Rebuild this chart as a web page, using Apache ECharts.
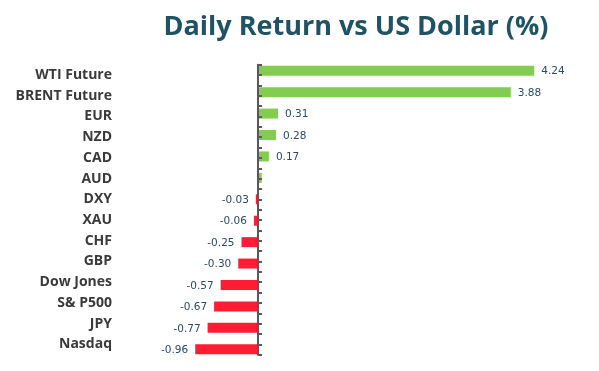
<!DOCTYPE html>
<html><head><meta charset="utf-8">
<script src="https://cdn.jsdelivr.net/npm/echarts@6/dist/echarts.min.js"></script>
<style>html,body{margin:0;padding:0;background:#fff}#c{width:599px;height:371px}</style>
</head><body><div id="c"></div>
<script>
const categories = ['WTI Future','BRENT Future','EUR','NZD','CAD','AUD','DXY','XAU','CHF','GBP','Dow Jones','S& P500','JPY','Nasdaq'];
const values = [4.24, 3.88, 0.31, 0.28, 0.17, 0.06, -0.03, -0.06, -0.25, -0.30, -0.57, -0.67, -0.77, -0.96];
const hiddenLabels = ['AUD'];
const titleText = 'Daily Return vs US Dollar (%)';

const GREEN = '#82CC50', RED = '#FF1D36';
const data = values.map((v, i) => ({
  value: v,
  itemStyle: { color: v >= 0 ? GREEN : RED },
  label: {
    show: hiddenLabels.indexOf(categories[i]) < 0,
    position: v >= 0 ? 'right' : 'left'
  }
}));

const chart = echarts.init(document.getElementById('c'), null, { renderer: 'canvas' });
chart.setOption({
  animation: false,
  title: {
    text: titleText, left: 351, top: 9, textAlign: 'center',
    textStyle: { fontFamily: 'Open Sans', fontWeight: 'bold', fontSize: 27, color: '#1F5262' }
  },
  grid: [
    { left: 258, right: 15, top: 64.7, height: 290 },
    { left: 127.4, right: 15.2, top: 60, height: 300 }
  ],
  xAxis: [
    { gridIndex: 0, type: 'value', min: 0, max: 1, show: false },
    { gridIndex: 1, type: 'value', min: -2, max: 5, show: false }
  ],
  yAxis: [
    { gridIndex: 0, type: 'category', data: categories, inverse: true, z: 5,
      axisLine: { show: true, lineStyle: { color: '#595959', width: 2 } },
      axisTick: { show: false },
      axisLabel: { margin: 146, color: '#3a3a3a', fontFamily: 'Open Sans', fontWeight: 'bold', fontSize: 14 } },
    { gridIndex: 0, type: 'value', min: 0, max: 28, interval: 1, position: 'left', z: 5,
      axisLine: { show: false },
      axisTick: { show: true, inside: true, length: 4, lineStyle: { color: '#595959', width: 2 } },
      axisLabel: { show: false }, splitLine: { show: false } },
    { gridIndex: 1, type: 'category', data: categories, inverse: true, show: false }
  ],
  series: [{
    type: 'bar', xAxisIndex: 1, yAxisIndex: 2, barWidth: 10, data: data,
    label: { distance: 7, offset: [0, 1], color: '#2B4A6B', fontFamily: 'DejaVu Sans', fontSize: 10.5,
      formatter: p => p.value.toFixed(2) }
  }]
});
</script></body></html>
